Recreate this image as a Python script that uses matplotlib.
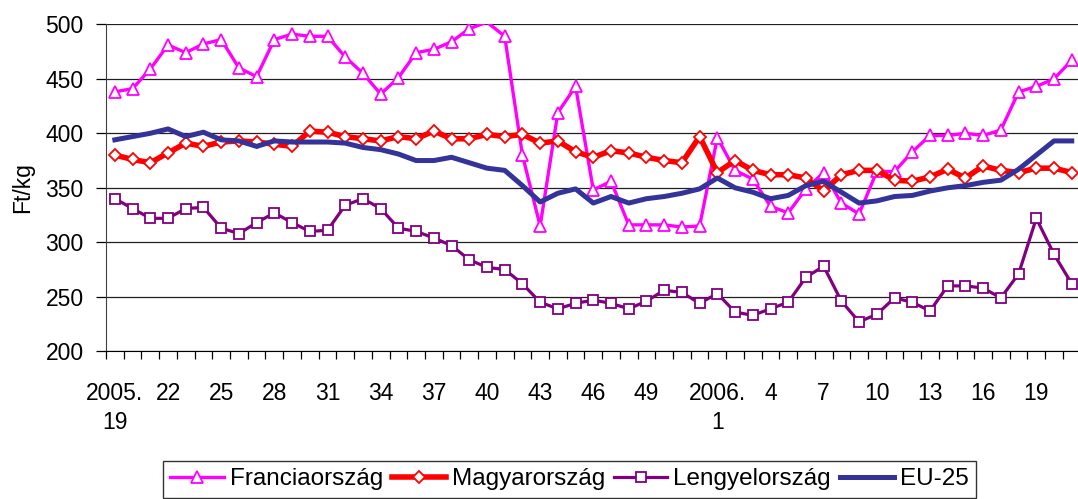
import matplotlib
matplotlib.use("Agg")
import matplotlib.pyplot as plt
import numpy as np

# Weekly pig prices (Ft/kg), 2005. week 19 - 2006. week 21
weeks = [f"2005.{w}" for w in range(19, 53)] + [f"2006.{w}" for w in range(1, 22)]

francia = [438, 441, 459, 481, 474, 482, 486, 460, 452, 486,
           491, 489, 489, 470, 455, 436, 451, 474, 477, 484,
           496, 502, 489, 380, 315, 419, 443, 348, 356, 316,
           316, 316, 314, 315, 396, 366, 358, 333, 327, 349,
           364, 336, 326, 365, 365, 383, 398, 398, 400, 398,
           403, 438, 443, 450, 467]
magyar = [380, 376, 373, 382, 391, 388, 392, 393, 392, 390,
          388, 402, 401, 397, 395, 393, 397, 395, 402, 395,
          395, 399, 397, 399, 391, 393, 383, 378, 384, 382,
          378, 375, 373, 397, 364, 375, 366, 362, 362, 359,
          347, 362, 366, 366, 357, 356, 360, 367, 359, 370,
          366, 364, 368, 368, 364]
lengyel = [340, 331, 322, 322, 331, 332, 313, 308, 318, 327,
           318, 310, 311, 334, 340, 331, 313, 310, 304, 297,
           284, 277, 275, 262, 245, 239, 244, 247, 244, 239,
           246, 256, 254, 244, 253, 236, 233, 239, 245, 268,
           278, 246, 227, 234, 249, 245, 237, 260, 260, 258,
           249, 271, 322, 289, 262]
eu25 = [394, 397, 400, 404, 397, 401, 394, 393, 388, 393,
        392, 392, 392, 391, 387, 385, 381, 375, 375, 378,
        373, 368, 366, 352, 337, 345, 349, 336, 342, 336,
        340, 342, 345, 349, 359, 350, 346, 340, 343, 352,
        356, 346, 336, 338, 342, 343, 347, 350, 352, 355,
        357, 367, 380, 393, 393]

label_weeks = ["2005.19", "2005.22", "2005.25", "2005.28", "2005.31", "2005.34",
               "2005.37", "2005.40", "2005.43", "2005.46", "2005.49", "2006.1",
               "2006.4", "2006.7", "2006.10", "2006.13", "2006.16", "2006.19"]
label_texts = ["2005.\n19", "22", "25", "28", "31", "34", "37", "40", "43",
               "46", "49", "2006.\n1", "4", "7", "10", "13", "16", "19"]

plt.rcParams['font.family'] = ['Liberation Sans', 'DejaVu Sans']

W, H = 1078, 499
fig = plt.figure(figsize=(W / 100, H / 100), dpi=100)
ax = fig.add_axes([106 / W, (H - 351.3) / H, (1080.6 - 106) / W, (351.3 - 24.3) / H])

ymax = 500
x = np.arange(len(weeks))
# points above the axis maximum get no marker (clipped like in the original)
fr_marks = [i for i, v in enumerate(francia) if v <= ymax]
ax.plot(x, francia, color='#FF00FF', lw=2.4, marker='^', ms=9, markevery=fr_marks,
        mfc='white', mec='#FF00FF', mew=1.3, label='Franciaország')
ax.plot(x, magyar, color='#FF0000', lw=4.0, marker='D', ms=6.5,
        mfc='white', mec='#FF0000', mew=1.3, label='Magyarország')
ax.plot(x, lengyel, color='#800080', lw=2.3, marker='s', ms=7,
        mfc='white', mec='#800080', mew=1.3, label='Lengyelország')
ax.plot(x, eu25, color='#333399', lw=3.6, label='EU-25')

ax.set_xlim(-0.5, len(weeks) - 0.5)
ax.set_ylim(200, ymax)
ax.set_yticks(np.arange(200, 501, 50))
ax.yaxis.grid(True, color='#202020', lw=0.9)
ax.set_axisbelow(True)

# category ticks between points, labels on chosen weeks
ax.set_xticks(np.arange(-0.5, len(weeks), 1))
ax.set_xticklabels([])
ax.tick_params(axis='x', which='major', length=6, width=0.9, direction='out')
ax.set_xticks([weeks.index(w) for w in label_weeks], minor=True)
ax.set_xticklabels(label_texts, minor=True, fontsize=16.5, linespacing=1.35)
ax.tick_params(axis='x', which='minor', length=0, pad=22)
ax.tick_params(axis='y', length=7, width=0.9, pad=9, labelsize=16.5)

for s in ['top', 'right']:
    ax.spines[s].set_visible(False)
ax.spines['left'].set_color('#404040')
ax.spines['bottom'].set_color('#000000')

ax.set_ylabel('Ft/kg', fontsize=16.5, labelpad=8)

leg = fig.legend(loc='upper left', bbox_to_anchor=(163 / W, (H - 461) / H),
                 ncol=4, frameon=True, fancybox=False, edgecolor='black',
                 prop={'size': 17.5},
                 handlelength=2.2, handletextpad=0.25, columnspacing=0.37,
                 borderpad=0.3, borderaxespad=0)
leg.get_frame().set_linewidth(1.0)

fig.savefig('out.png', dpi=100)
